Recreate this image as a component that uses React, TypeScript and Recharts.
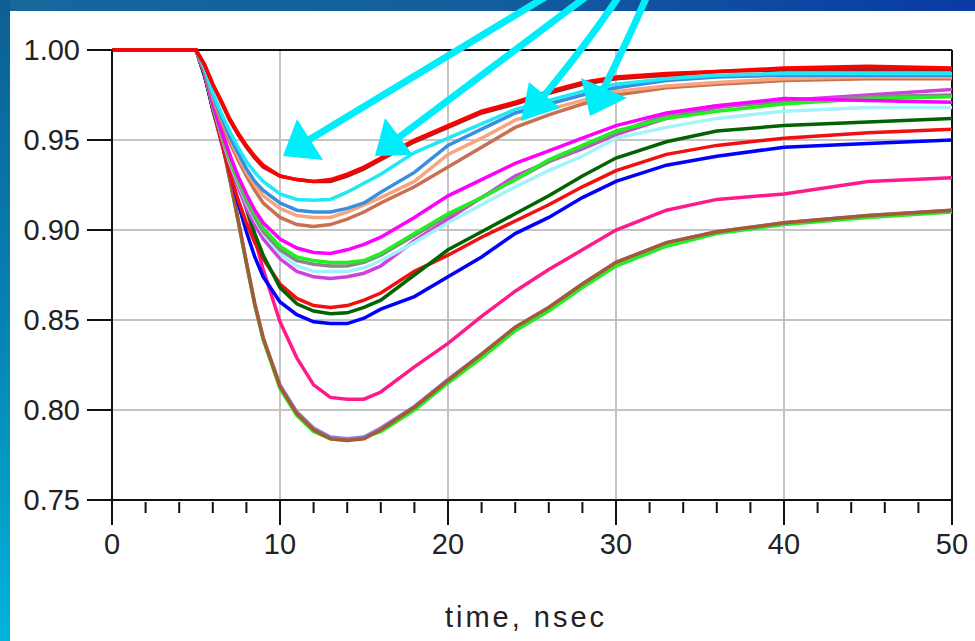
import { LineChart, Line, XAxis, YAxis, ReferenceLine } from 'recharts';

// sample times (nsec)
const times = [0, 5, 5.5, 6, 6.5, 7, 7.5, 8, 8.5, 9, 10, 11, 12, 13, 14, 15, 16, 18, 20, 22, 24, 26, 28, 30, 33, 36, 40, 45, 50];

const redTop = [1, 1, 0.992, 0.981, 0.972, 0.962, 0.954, 0.947, 0.941, 0.936, 0.930, 0.928, 0.927, 0.928, 0.931, 0.935, 0.940, 0.950, 0.958, 0.966, 0.971, 0.977, 0.982, 0.985, 0.987, 0.988, 0.990, 0.991, 0.990];
const darkRed = [1, 1, 0.992, 0.981, 0.971, 0.961, 0.953, 0.946, 0.940, 0.935, 0.930, 0.928, 0.927, 0.927, 0.930, 0.934, 0.939, 0.949, 0.957, 0.965, 0.970, 0.976, 0.981, 0.984, 0.986, 0.988, 0.989, 0.989, 0.989];
const cyan = [1, 1, 0.990, 0.976, 0.965, 0.955, 0.946, 0.938, 0.932, 0.927, 0.920, 0.917, 0.9165, 0.917, 0.921, 0.926, 0.931, 0.943, 0.951, 0.959, 0.967, 0.972, 0.977, 0.981, 0.984, 0.986, 0.987, 0.987, 0.987];
const steelBlue = [1, 1, 0.990, 0.975, 0.963, 0.952, 0.943, 0.934, 0.927, 0.922, 0.915, 0.911, 0.910, 0.910, 0.912, 0.915, 0.921, 0.932, 0.947, 0.956, 0.965, 0.970, 0.975, 0.979, 0.983, 0.985, 0.986, 0.986, 0.986];
const lightSalmon = [1, 1, 0.990, 0.974, 0.962, 0.951, 0.941, 0.932, 0.925, 0.919, 0.912, 0.908, 0.907, 0.907, 0.910, 0.914, 0.918, 0.927, 0.942, 0.951, 0.961, 0.967, 0.972, 0.977, 0.980, 0.982, 0.984, 0.985, 0.985];
const sienna = [1, 1, 0.989, 0.973, 0.960, 0.949, 0.939, 0.930, 0.922, 0.915, 0.907, 0.903, 0.902, 0.903, 0.906, 0.910, 0.915, 0.924, 0.935, 0.946, 0.957, 0.964, 0.970, 0.975, 0.979, 0.981, 0.983, 0.984, 0.984];
const magenta = [1, 1, 0.988, 0.970, 0.955, 0.942, 0.930, 0.920, 0.911, 0.904, 0.895, 0.890, 0.8875, 0.887, 0.889, 0.892, 0.896, 0.907, 0.919, 0.928, 0.937, 0.944, 0.951, 0.958, 0.965, 0.969, 0.973, 0.972, 0.971];
const lime = [1, 1, 0.988, 0.970, 0.954, 0.940, 0.928, 0.918, 0.909, 0.901, 0.891, 0.885, 0.883, 0.882, 0.882, 0.883, 0.887, 0.898, 0.909, 0.918, 0.928, 0.939, 0.947, 0.955, 0.962, 0.966, 0.970, 0.973, 0.974];
const gray = [1, 1, 0.988, 0.969, 0.953, 0.939, 0.927, 0.916, 0.907, 0.899, 0.889, 0.883, 0.881, 0.880, 0.880, 0.882, 0.886, 0.897, 0.908, 0.918, 0.928, 0.938, 0.946, 0.954, 0.964, 0.969, 0.971, 0.974, 0.975];
const lightCyan = [1, 1, 0.988, 0.969, 0.953, 0.938, 0.926, 0.915, 0.906, 0.898, 0.887, 0.880, 0.877, 0.877, 0.877, 0.879, 0.883, 0.893, 0.904, 0.914, 0.924, 0.933, 0.941, 0.951, 0.957, 0.962, 0.966, 0.968, 0.968];
const violet = [1, 1, 0.988, 0.969, 0.952, 0.937, 0.924, 0.912, 0.903, 0.895, 0.884, 0.877, 0.874, 0.873, 0.874, 0.876, 0.880, 0.894, 0.906, 0.918, 0.930, 0.938, 0.945, 0.953, 0.962, 0.968, 0.972, 0.975, 0.978];
const redLow = [1, 1, 0.987, 0.967, 0.949, 0.932, 0.917, 0.904, 0.893, 0.884, 0.870, 0.862, 0.858, 0.857, 0.858, 0.861, 0.865, 0.877, 0.886, 0.896, 0.905, 0.914, 0.924, 0.933, 0.942, 0.947, 0.951, 0.954, 0.956];
const darkGreen = [1, 1, 0.987, 0.967, 0.953, 0.939, 0.927, 0.912, 0.898, 0.886, 0.868, 0.859, 0.855, 0.8535, 0.854, 0.857, 0.861, 0.875, 0.889, 0.899, 0.909, 0.919, 0.930, 0.940, 0.949, 0.955, 0.958, 0.960, 0.962];
const blue = [1, 1, 0.986, 0.967, 0.950, 0.933, 0.915, 0.899, 0.885, 0.874, 0.860, 0.853, 0.849, 0.848, 0.848, 0.851, 0.856, 0.863, 0.874, 0.885, 0.898, 0.907, 0.918, 0.927, 0.936, 0.941, 0.946, 0.948, 0.950];
const pink = [1, 1, 0.988, 0.972, 0.956, 0.942, 0.928, 0.912, 0.895, 0.878, 0.849, 0.829, 0.814, 0.807, 0.806, 0.806, 0.810, 0.824, 0.837, 0.852, 0.866, 0.878, 0.889, 0.900, 0.911, 0.917, 0.920, 0.927, 0.929];
const limeLow = [1, 1, 0.986, 0.970, 0.951, 0.929, 0.905, 0.881, 0.858, 0.839, 0.812, 0.797, 0.788, 0.784, 0.783, 0.785, 0.788, 0.800, 0.815, 0.829, 0.844, 0.855, 0.868, 0.880, 0.891, 0.898, 0.903, 0.907, 0.910];
const mediumPurple = [1, 1, 0.986, 0.970, 0.951, 0.929, 0.906, 0.882, 0.859, 0.840, 0.814, 0.799, 0.790, 0.785, 0.784, 0.785, 0.790, 0.802, 0.817, 0.831, 0.846, 0.857, 0.870, 0.882, 0.893, 0.899, 0.904, 0.908, 0.911];
const brown = [1, 1, 0.986, 0.970, 0.951, 0.929, 0.906, 0.882, 0.859, 0.840, 0.813, 0.798, 0.789, 0.784, 0.783, 0.784, 0.789, 0.8015, 0.8165, 0.831, 0.846, 0.857, 0.870, 0.882, 0.893, 0.899, 0.904, 0.908, 0.911];

// drawn bottom to top
const series = [
  { key: 'limeLow', values: limeLow, color: '#22ee22' },
  { key: 'mediumPurple', values: mediumPurple, color: '#8c7ce6' },
  { key: 'brown', values: brown, color: '#a65a32' },
  { key: 'pink', values: pink, color: '#ff1a8c' },
  { key: 'blue', values: blue, color: '#0000ff' },
  { key: 'redLow', values: redLow, color: '#f01010' },
  { key: 'darkGreen', values: darkGreen, color: '#006400' },
  { key: 'violet', values: violet, color: '#d040dc' },
  { key: 'lightCyan', values: lightCyan, color: '#a4f2fa' },
  { key: 'gray', values: gray, color: '#888888' },
  { key: 'lime', values: lime, color: '#22ee22' },
  { key: 'magenta', values: magenta, color: '#ff00ff' },
  { key: 'sienna', values: sienna, color: '#c8704f' },
  { key: 'lightSalmon', values: lightSalmon, color: '#f7a57e' },
  { key: 'steelBlue', values: steelBlue, color: '#3a8ee0' },
  { key: 'cyan', values: cyan, color: '#20e8f4' },
  { key: 'darkRed', values: darkRed, color: '#b01c1c' },
  { key: 'redTop', values: redTop, color: '#ff0000' },
];

const xTicks = [0, 2, 4, 6, 8, 10, 12, 14, 16, 18, 20, 22, 24, 26, 28, 30, 32, 34, 36, 38, 40, 42, 44, 46, 48, 50];
const yTicks = [0.75, 0.8, 0.85, 0.9, 0.95, 1.0];
const xGrid = [10, 20, 30, 40];
const yGrid = [0.8, 0.85, 0.9, 0.95];

const data = times.map((t, i) => {
  const row: Record<string, number> = { t };
  series.forEach(s => { row[s.key] = s.values[i]; });
  return row;
});

const font = '"Liberation Sans", Arial, sans-serif';

const XTick = (props: any) => {
  const { x, y, payload } = props;
  const v = payload.value;
  const major = v % 10 === 0;
  return (
    <g>
      <line x1={x} x2={x} y1={major ? y : y + 2} y2={y + (major ? 25 : 13)} stroke="#111" strokeWidth={2} />
      {major && (
        <text x={x} y={y + 54} textAnchor="middle" fontSize={29} fill="#222" fontFamily={font}>{v}</text>
      )}
    </g>
  );
};

export default function App() {
  return (
    <div style={{ position: 'absolute', left: 0, top: 0, width: 975, height: 641, overflow: 'hidden', background: 'linear-gradient(to right, #14699c 0%, #135e9c 50%, #0a3aa6 100%)' }}>
      <div style={{ position: 'absolute', left: 0, top: 0, width: 10, height: 641, background: 'linear-gradient(to bottom, #0d5f94 0%, #0586b8 55%, #00b4da 100%)' }} />
      <div style={{ position: 'absolute', left: 10, top: 11, right: 0, bottom: 0, background: '#ffffff' }} />
      <div style={{ position: 'absolute', left: 0, top: 0 }}>
        <LineChart width={975} height={641} data={data} margin={{ top: 50, right: 23, bottom: 11, left: 12 }}>
          <XAxis
            dataKey="t"
            type="number"
            domain={[0, 50]}
            ticks={xTicks}
            interval={0}
            tickLine={false}
            tickSize={0}
            tickMargin={0}
            tick={<XTick />}
            height={130}
            axisLine={{ stroke: '#111', strokeWidth: 2 }}
            label={{ value: 'time, nsec', position: 'insideBottom', offset: 3, fontSize: 29, fill: '#222', fontFamily: font, letterSpacing: 3, dx: -6 }}
          />
          <YAxis
            type="number"
            domain={[0.75, 1.0]}
            ticks={yTicks}
            interval={0}
            width={100}
            tickSize={25}
            tickMargin={7}
            tickFormatter={(v: number) => v.toFixed(2)}
            tick={{ fontSize: 29, fill: '#222', fontFamily: font }}
            tickLine={{ stroke: '#111', strokeWidth: 2 }}
            axisLine={{ stroke: '#111', strokeWidth: 2 }}
          />
          {xGrid.map(v => <ReferenceLine key={'gx' + v} x={v} stroke="#c4c4c4" strokeWidth={2} />)}
          {yGrid.map(v => <ReferenceLine key={'gy' + v} y={v} stroke="#c4c4c4" strokeWidth={2} />)}
          <ReferenceLine y={1.0} stroke="#111" strokeWidth={2} />
          <ReferenceLine x={50} stroke="#111" strokeWidth={2} />
          {series.map(s => (
            <Line key={s.key} type="linear" dataKey={s.key} stroke={s.color} strokeWidth={3.5} dot={false} isAnimationActive={false} />
          ))}
        </LineChart>
      </div>
      {/* callout arrows */}
      <svg width={975} height={641} style={{ position: 'absolute', left: 0, top: 0, pointerEvents: 'none' }}>
        <g stroke="#00eefa" strokeWidth={7} fill="none" strokeLinecap="round">
          <line x1={547} y1={-4} x2={307} y2={141} />
          <line x1={587} y1={-4} x2={398} y2={138} />
          <path d="M 619 -4 Q 590 40 543 97" />
          <path d="M 647 -4 Q 628 40 603 90" />
        </g>
        <g fill="#00eefa">
          <polygon points="283,156 297,119 323,160" />
          <polygon points="375,156 385,118 413,155" />
          <polygon points="521,121 529,82 560,108" />
          <polygon points="590,116 581,78 627,98" />
        </g>
      </svg>
    </div>
  );
}
